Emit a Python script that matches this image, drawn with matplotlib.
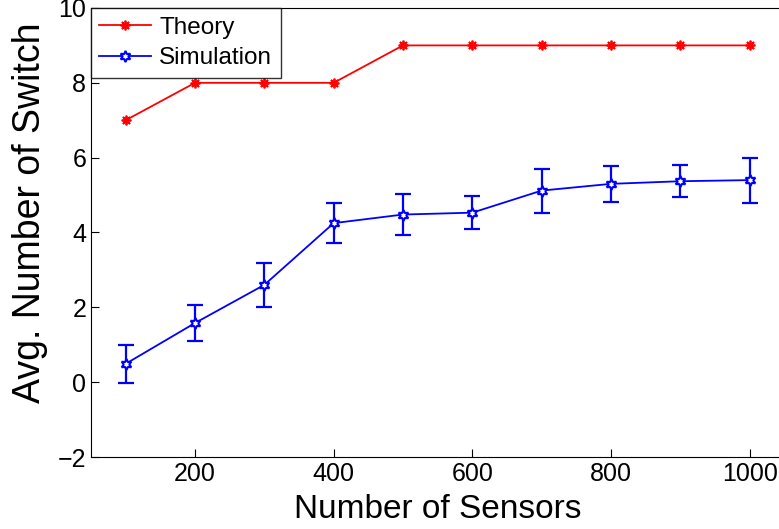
import numpy as np
import matplotlib.pyplot as plt

plt.rcParams['font.family'] = ['Liberation Sans', 'DejaVu Sans']
plt.rcParams['axes.unicode_minus'] = True

sensors = [100, 200, 300, 400, 500, 600, 700, 800, 900, 1000]
theory = [7, 8, 8, 8, 9, 9, 9, 9, 9, 9]
simulation = [0.49, 1.58, 2.6, 4.25, 4.48, 4.53, 5.12, 5.3, 5.37, 5.4]
sim_err = [0.5, 0.47, 0.59, 0.54, 0.55, 0.44, 0.59, 0.48, 0.43, 0.6]

fig = plt.figure(figsize=(7.79, 5.29), dpi=100)
ax = fig.add_axes([0.1168, 0.1361, 0.89, 0.8488])

ax.plot(sensors, theory, color='red', marker=(8, 2, 0), markersize=7, markeredgewidth=1.3,
        linewidth=1.3, label='Theory')
# error bars drawn separately so the legend shows just line + marker
ax.errorbar(sensors, simulation, yerr=sim_err, fmt='none', ecolor='blue',
            elinewidth=1.6, capsize=6, capthick=1.6)
ax.plot(sensors, simulation, color='blue', marker=(6, 1, 0), markersize=8,
        markerfacecolor='white', markeredgewidth=1.5, linewidth=1.3, label='Simulation')

ax.set_xlim(50, 1050)
ax.set_ylim(-2, 10)
ax.set_xticks([200, 400, 600, 800, 1000])
ax.set_yticks([-2, 0, 2, 4, 6, 8, 10])
ax.tick_params(direction='in', labelsize=18, length=6)
ax.set_xlabel('Number of Sensors', fontsize=24, labelpad=6)
ax.set_ylabel('Avg. Number of Switch', fontsize=27)
ax.yaxis.set_label_coords(-0.062, 0.545)

leg = ax.legend(loc='upper left', fontsize=17.5, fancybox=False, edgecolor='black',
                borderaxespad=0, handlelength=2.1, borderpad=0.35, labelspacing=0.35,
                handletextpad=0.35)
leg.get_frame().set_linewidth(1.0)

fig.savefig('out.png', dpi=100)
